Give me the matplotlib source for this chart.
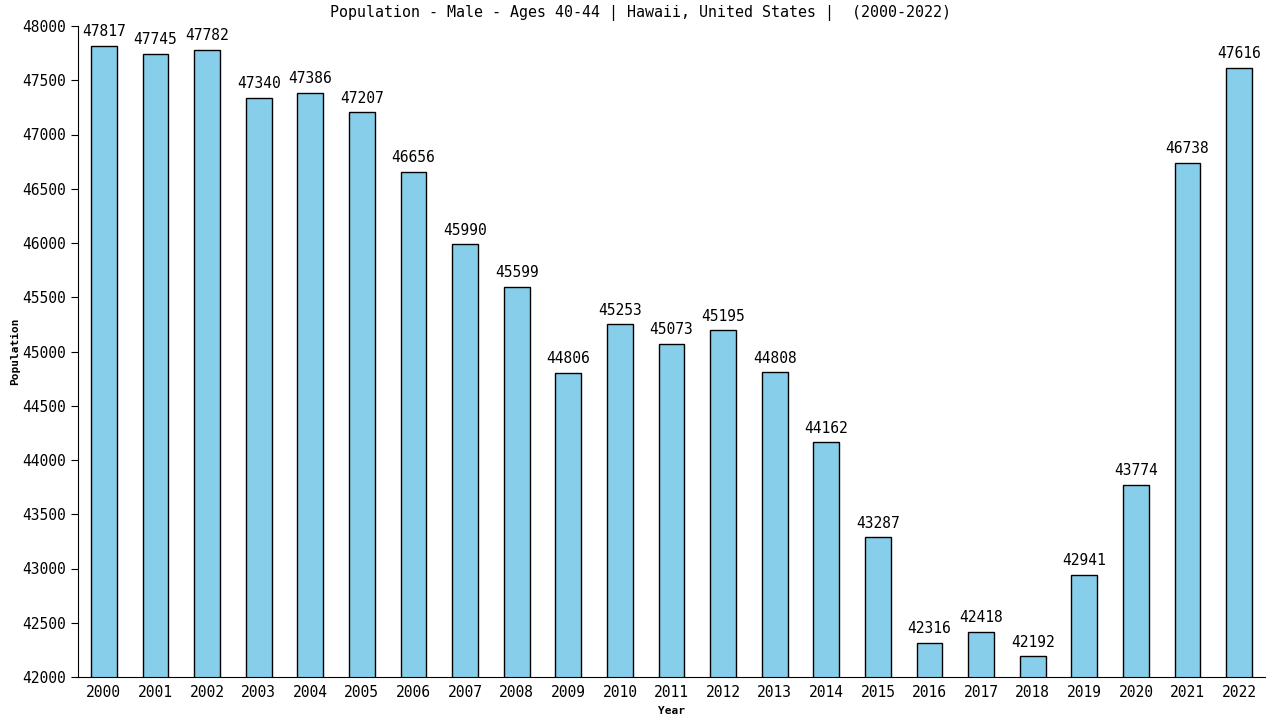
import matplotlib
matplotlib.use("Agg")
import matplotlib.pyplot as plt

years = [str(y) for y in range(2000, 2023)]
values = [47817, 47745, 47782, 47340, 47386, 47207, 46656, 45990, 45599, 44806,
          45253, 45073, 45195, 44808, 44162, 43287, 42316, 42418, 42192, 42941,
          43774, 46738, 47616]
title = "Population - Male - Ages 40-44 | Hawaii, United States |  (2000-2022)"

plt.rcParams['font.family'] = ['DejaVu Sans Mono']
fig = plt.figure(figsize=(12.8, 7.2), dpi=100)
ax = fig.add_axes([78/1280, 1 - 677/720, (1265-78)/1280, (677-26)/720])
x = list(range(len(years)))
ax.bar(x, values, width=0.5, bottom=0, color='#87CEEB', edgecolor='black', linewidth=1)
for xi, v in zip(x, values):
    ax.text(xi, v + 60, str(v), ha='center', va='bottom', fontsize=10.5)
ax.set_ylim(42000, 48000)
ax.set_xlim(-0.5, len(years) - 0.5)
ax.set_yticks(range(42000, 48001, 500))
ax.set_xticks(x)
ax.set_xticklabels(years)
ax.tick_params(axis='y', labelsize=10.5, length=5, direction='out')
ax.tick_params(axis='x', labelsize=10.5, length=0, pad=6)
for s in ['top', 'right']:
    ax.spines[s].set_visible(False)
ax.set_xlabel('Year', fontsize=8, fontweight='bold', labelpad=4)
ax.set_ylabel('Population', fontsize=8, fontweight='bold', labelpad=2)
fig.text(0.5, 1 - 13/720, title, ha='center', va='center', fontsize=10.8)
fig.savefig('out.png', dpi=100)
